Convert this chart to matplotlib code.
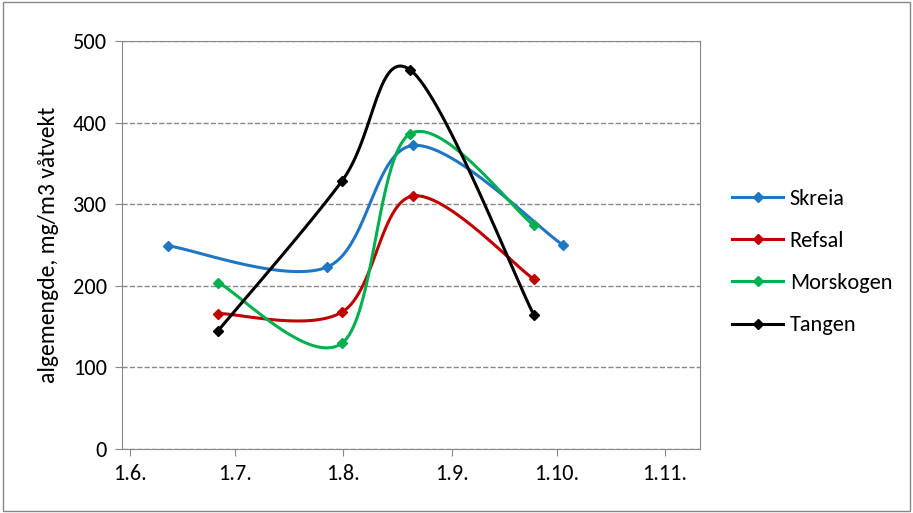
import matplotlib.pyplot as plt
import numpy as np

# dager etter 1.6.
ticks = [0, 30, 61, 92, 122, 153]
tick_labels = ['1.6.', '1.7.', '1.8.', '1.9.', '1.10.', '1.11.']

skreia_x = [10.9, 56.4, 81.0, 123.8]
skreia_y = [249, 223, 372, 250]
refsal_x = [25.2, 60.7, 80.8, 115.5]
refsal_y = [166, 168, 310, 208]
morskogen_x = [25.2, 60.7, 80.0, 115.5]
morskogen_y = [204, 130, 386, 274]
tangen_x = [25.2, 60.7, 80.0, 115.5]
tangen_y = [145, 329, 465, 164]

series = [('Skreia', skreia_x, skreia_y, '#1f77c4'),
          ('Refsal', refsal_x, refsal_y, '#c00000'),
          ('Morskogen', morskogen_x, morskogen_y, '#00b050'),
          ('Tangen', tangen_x, tangen_y, '#000000')]


def smooth(x, y, n=40):
    # Excel-lignende glatting (Bezier med Catmull-Rom kontrollpunkter)
    p = np.column_stack([x, y]).astype(float)
    p = np.vstack([p[0], p, p[-1]])
    out = []
    for i in range(1, len(p) - 2):
        p0, p1, p2, p3 = p[i - 1], p[i], p[i + 1], p[i + 2]
        c1 = p1 + (p2 - p0) / 6
        c2 = p2 - (p3 - p1) / 6
        t = np.linspace(0, 1, n)[:, None]
        out.append((1 - t) ** 3 * p1 + 3 * (1 - t) ** 2 * t * c1 + 3 * (1 - t) * t ** 2 * c2 + t ** 3 * p2)
    out = np.vstack(out)
    return out[:, 0], out[:, 1]


plt.rcParams['font.family'] = ['Carlito', 'DejaVu Sans']
fig = plt.figure(figsize=(9.13, 5.13), dpi=100)
ax = fig.add_axes([122 / 913, 1 - 449 / 513, (700 - 122) / 913, (449 - 41) / 513])

for name, x, y, c in series:
    sx, sy = smooth(x, y)
    ax.plot(sx, sy, color=c, lw=2.2, zorder=3)
    ax.plot(x, y, 'D', color=c, ms=5, zorder=4)
    ax.plot([], [], color=c, lw=2.2, marker='D', ms=5, label=name)

ax.set_xlim(-2.3, 163)
ax.set_ylim(0, 500)
ax.set_yticks(range(0, 501, 100))
ax.set_xticks(ticks)
ax.set_xticklabels(tick_labels)
ax.tick_params(labelsize=16, color='#888888', direction='out', length=5, pad=6)
ax.yaxis.grid(True, ls='--', color='#888888', lw=1)
ax.set_axisbelow(True)
for s in ax.spines.values():
    s.set_color('#888888')
ax.set_ylabel('algemengde, mg/m3 våtvekt', fontsize=17, labelpad=10)

fig.legend(loc='center left', bbox_to_anchor=(712 / 913, 1 - 262 / 513), frameon=False,
           fontsize=16, handlelength=2.3, handletextpad=0.3, labelspacing=1.0)
fig.patches.append(plt.Rectangle((0.003, 0.003), 0.994, 0.994, transform=fig.transFigure,
                                 fill=False, ec='#888888', lw=1))
fig.savefig('out.png')
